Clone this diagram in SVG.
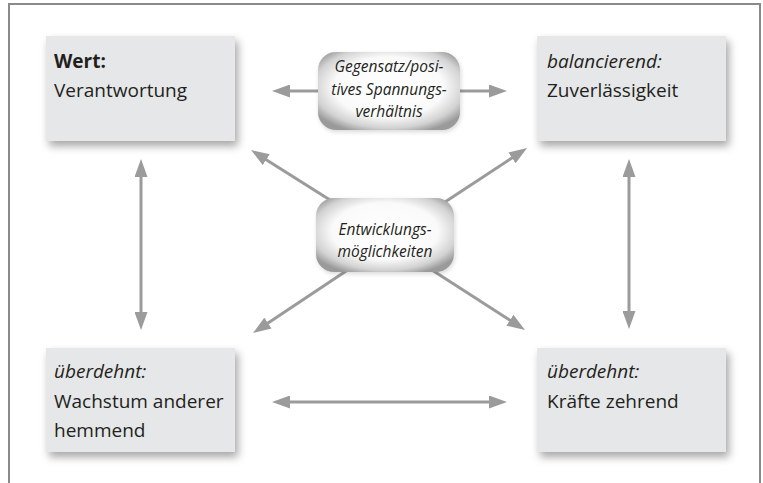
<svg xmlns="http://www.w3.org/2000/svg" width="763" height="483" viewBox="0 0 763 483">
<style>
.box{fill:#e6e7e8;filter:url(#sh)}
.t{font-family:"Open Sans","Noto Sans",sans-serif;font-size:19px;fill:#231f20}
.b{font-weight:bold}
.i{font-style:italic}
.bt{font-family:"Open Sans","Noto Sans",sans-serif;font-size:15.5px;font-style:italic;fill:#231f20;text-anchor:middle}
.c{stroke:#9b9b9b;stroke-width:3;fill:none}
.bub{fill:url(#rg);filter:url(#sh2)}
</style>
<defs>
<filter id="sh" x="-10%" y="-10%" width="130%" height="140%">
<feDropShadow dx="3" dy="5" stdDeviation="4" flood-color="#000" flood-opacity="0.35"/>
</filter>
<filter id="sh2" x="-10%" y="-10%" width="130%" height="140%">
<feDropShadow dx="1" dy="2" stdDeviation="2" flood-color="#000" flood-opacity="0.15"/>
</filter>
<radialGradient id="rg" cx="50%" cy="45%" r="62%">
<stop offset="0" stop-color="#ffffff"/>
<stop offset="0.62" stop-color="#fafafa"/>
<stop offset="0.85" stop-color="#d2d2d2"/>
<stop offset="1" stop-color="#9a9a9a"/>
</radialGradient>
<marker id="ah" markerUnits="userSpaceOnUse" markerWidth="18" markerHeight="13" viewBox="0 0 18 13" refX="8" refY="6.5" orient="auto-start-reverse">
<path d="M0,0 L18,6.5 L0,13 z" fill="#9b9b9b"/>
</marker>
</defs>
<rect width="763" height="483" fill="#ffffff"/>
<path d="M9,490 V4 H760 V490" fill="none" stroke="#8a8a8a" stroke-width="2"/>
<g id="connectors">
<line class="c" x1="320" y1="91" x2="282" y2="91" marker-end="url(#ah)"/>
<line class="c" x1="458" y1="91" x2="497" y2="91" marker-end="url(#ah)"/>
<line class="c" x1="342.7" y1="208" x2="259.5" y2="155.4" marker-end="url(#ah)"/>
<line class="c" x1="435.5" y1="208.2" x2="518.7" y2="153.5" marker-end="url(#ah)"/>
<line class="c" x1="349.5" y1="268.7" x2="261.3" y2="327.5" marker-end="url(#ah)"/>
<line class="c" x1="430.4" y1="268.9" x2="516.6" y2="324.6" marker-end="url(#ah)"/>
<line class="c" x1="141" y1="169" x2="141" y2="320" marker-start="url(#ah)" marker-end="url(#ah)"/>
<line class="c" x1="629" y1="169" x2="629" y2="319" marker-start="url(#ah)" marker-end="url(#ah)"/>
<line class="c" x1="282" y1="402" x2="497" y2="402" marker-start="url(#ah)" marker-end="url(#ah)"/>
</g>
<g id="wert">
<rect class="box" x="46" y="36" width="189" height="105"/>
<text class="t b" x="54" y="68">Wert:</text>
<text class="t" x="54" y="97">Verantwortung</text>
</g>
<g id="balancierend">
<rect class="box" x="537" y="36" width="189" height="105"/>
<text class="t i" x="547" y="68">balancierend:</text>
<text class="t" x="547" y="97">Zuverlässigkeit</text>
</g>
<g id="ueberdehnt-links">
<rect class="box" x="46" y="348" width="189" height="104"/>
<text class="t i" x="54" y="378">überdehnt:</text>
<text class="t" x="54" y="408">Wachstum anderer</text>
<text class="t" x="54" y="437">hemmend</text>
</g>
<g id="ueberdehnt-rechts">
<rect class="box" x="537" y="348" width="189" height="104"/>
<text class="t i" x="547" y="378">überdehnt:</text>
<text class="t" x="547" y="408">Kräfte zehrend</text>
</g>
<g id="gegensatz">
<rect class="bub" x="318" y="52" width="142" height="78" rx="18"/>
<text class="bt" x="389" y="72">Gegensatz/posi-</text>
<text class="bt" x="389" y="95">tives Spannungs-</text>
<text class="bt" x="389" y="117">verhältnis</text>
</g>
<g id="entwicklung">
<rect class="bub" x="316" y="198" width="138" height="74" rx="18"/>
<text class="bt" x="385" y="235">Entwicklungs-</text>
<text class="bt" x="385" y="257">möglichkeiten</text>
</g>
</svg>
